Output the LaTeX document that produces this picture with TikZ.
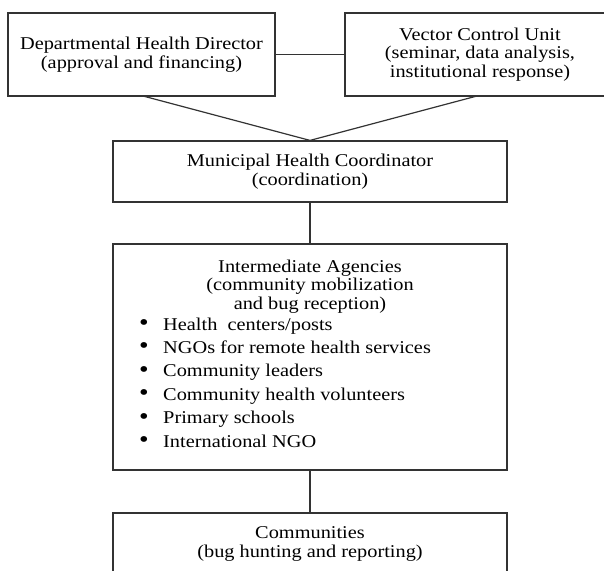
\documentclass[tikz,border=0pt]{standalone}
\usepackage{fontspec}
\setmainfont{Liberation Serif}[FakeStretch=1.13]
\newcommand{\bulitem}{\makebox[24pt][l]{\raisebox{-0.5pt}{\scalebox{1.35}{\textbullet}}}}
\begin{document}
\begin{tikzpicture}[x=1pt,y=-1pt,
  box/.style={draw=black!80, line width=1.2pt, inner sep=0pt, align=center,
              font=\fontsize{18}{18.4}\selectfont},
  link/.style={draw=black!80, line width=1.2pt},
  txt/.style={inner sep=0pt, font=\fontsize{18}{18.4}\selectfont}]
\useasboundingbox (0,0) rectangle (604,570);
\clip (0,0) rectangle (604,570);
\node[box, minimum width=267pt, minimum height=83pt] (A) at (141.5,54.5)
  {Departmental Health Director\\(approval and financing)};
\node[box, minimum width=270pt, minimum height=83pt] (B) at (480,54.5)
  {Vector Control Unit\\(seminar, data analysis,\\institutional response)};
\node[box, minimum width=394pt, minimum height=61pt] (C) at (310,171.5)
  {Municipal Health Coordinator\\(coordination)};
\node[box, minimum width=394pt, minimum height=226pt] (D) at (310,357) {};
\node[box, minimum width=394pt, minimum height=62pt] (E) at (310,544)
  {Communities\\(bug hunting and reporting)};
\node[txt, align=center, anchor=base] (Dt) at (310,309)
  {Intermediate Agencies\\(community mobilization\\and bug reception)};
\node[txt, align=left, anchor=base west, font=\fontsize{18}{23.4}\selectfont] (Dl) at (139,447)
  {\bulitem Health~ centers/posts\\
   \bulitem NGOs for remote health services\\
   \bulitem Community leaders\\
   \bulitem Community health volunteers\\
   \bulitem Primary schools\\
   \bulitem International NGO};
\coordinate (Ab) at (143,96);
\coordinate (Bb) at (477,96);
\draw[link] (A.east) -- (B.west);
\draw[link] (Ab) -- (C.north);
\draw[link] (Bb) -- (C.north);
\draw[link] (C.south) -- (D.north);
\draw[link] (D.south) -- (E.north);
\end{tikzpicture}
\end{document}
